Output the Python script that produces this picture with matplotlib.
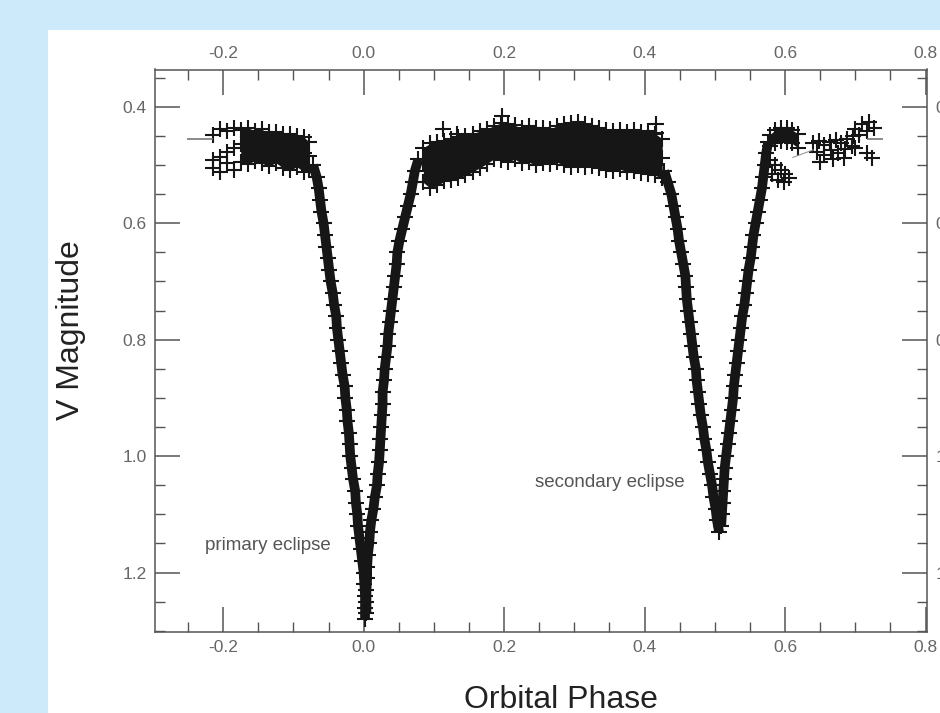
import matplotlib.pyplot as plt
from matplotlib.patches import Rectangle
from matplotlib.ticker import MultipleLocator, FormatStrFormatter

plt.rcParams['font.family'] = ['Liberation Sans', 'DejaVu Sans']
plt.rcParams['axes.unicode_minus'] = False

# out of eclipse before the primary minimum (upper / middle / lower part of the band)
lead_phase = [-0.215, -0.205, -0.195, -0.185, -0.175, -0.165, -0.155, -0.145, -0.135, -0.125,
              -0.115, -0.105, -0.095, -0.085, -0.078]
lead_top = [0.448, 0.438, 0.442, 0.437, 0.440, 0.436, 0.441, 0.439, 0.444, 0.443,
            0.447, 0.446, 0.450, 0.452, 0.460]
lead_mid = [0.492, 0.486, 0.478, 0.470, 0.464, 0.462, 0.466, 0.468, 0.470, 0.468,
            0.473, 0.475, 0.478, 0.480, 0.484]
lead_bot = [0.506, 0.512, 0.497, 0.508, 0.494, 0.498, 0.493, 0.497, 0.502, 0.496,
            0.505, 0.509, 0.503, 0.512, 0.508]

# primary eclipse, ingress and egress
pri_in_phase = [-0.072, -0.067, -0.064, -0.062, -0.060, -0.057, -0.055, -0.053, -0.051, -0.049,
                -0.047, -0.044, -0.042, -0.039, -0.038, -0.036, -0.034, -0.032, -0.030, -0.027,
                -0.026, -0.024, -0.023, -0.021, -0.020, -0.019, -0.017, -0.015, -0.012, -0.011,
                -0.009, -0.008, -0.006, -0.004, -0.002, 0.000, 0.001, 0.002, 0.002, 0.002]
pri_in_mag = [0.50, 0.52, 0.54, 0.56, 0.58, 0.60, 0.62, 0.64, 0.66, 0.68,
              0.70, 0.72, 0.74, 0.76, 0.78, 0.80, 0.82, 0.84, 0.86, 0.88,
              0.90, 0.92, 0.94, 0.96, 0.98, 1.00, 1.02, 1.04, 1.06, 1.08,
              1.10, 1.12, 1.14, 1.16, 1.18, 1.20, 1.22, 1.24, 1.26, 1.28]
pri_eg_phase = [0.004, 0.004, 0.004, 0.005, 0.005, 0.006, 0.008, 0.009, 0.011, 0.014,
                0.016, 0.019, 0.020, 0.022, 0.023, 0.024, 0.025, 0.026, 0.027, 0.027,
                0.029, 0.030, 0.032, 0.034, 0.035, 0.037, 0.039, 0.041, 0.043, 0.045,
                0.047, 0.048, 0.051, 0.055, 0.059, 0.063, 0.067, 0.070, 0.073, 0.078]
pri_eg_mag = [1.27, 1.25, 1.23, 1.21, 1.19, 1.17, 1.15, 1.13, 1.11, 1.09,
              1.07, 1.05, 1.03, 1.01, 0.99, 0.97, 0.95, 0.93, 0.91, 0.89,
              0.87, 0.85, 0.83, 0.81, 0.79, 0.77, 0.75, 0.73, 0.71, 0.69,
              0.67, 0.65, 0.63, 0.61, 0.59, 0.57, 0.55, 0.53, 0.51, 0.49]

# maximum between the eclipses
mid_phase = [0.085, 0.095, 0.105, 0.115, 0.125, 0.135, 0.145, 0.155, 0.165, 0.175,
             0.185, 0.195, 0.205, 0.215, 0.225, 0.235, 0.245, 0.255, 0.265, 0.275,
             0.285, 0.295, 0.305, 0.315, 0.325, 0.335, 0.345, 0.355, 0.365, 0.375,
             0.385, 0.395, 0.405, 0.415, 0.425]
mid_top = [0.470, 0.463, 0.460, 0.458, 0.455, 0.452, 0.450, 0.446, 0.442, 0.438,
           0.433, 0.428, 0.430, 0.432, 0.436, 0.433, 0.437, 0.436, 0.438, 0.433,
           0.430, 0.428, 0.426, 0.430, 0.433, 0.437, 0.440, 0.442, 0.440, 0.444,
           0.440, 0.443, 0.441, 0.446, 0.455]
mid_mid = [0.498, 0.500, 0.497, 0.492, 0.490, 0.487, 0.484, 0.479, 0.473, 0.468,
           0.461, 0.460, 0.462, 0.461, 0.466, 0.464, 0.468, 0.466, 0.468, 0.464,
           0.465, 0.466, 0.463, 0.467, 0.468, 0.471, 0.474, 0.476, 0.474, 0.478,
           0.475, 0.478, 0.478, 0.482, 0.488]
mid_bot = [0.530, 0.540, 0.535, 0.528, 0.525, 0.522, 0.518, 0.512, 0.505, 0.498,
           0.490, 0.492, 0.495, 0.490, 0.497, 0.495, 0.500, 0.497, 0.498, 0.495,
           0.500, 0.503, 0.500, 0.504, 0.502, 0.506, 0.508, 0.510, 0.507, 0.512,
           0.510, 0.514, 0.515, 0.518, 0.522]

# secondary eclipse, ingress and egress
sec_in_phase = [0.428, 0.433, 0.438, 0.441, 0.444, 0.447, 0.449, 0.452, 0.455, 0.458,
                0.459, 0.460, 0.462, 0.464, 0.466, 0.468, 0.470, 0.473, 0.474, 0.476,
                0.478, 0.480, 0.483, 0.485, 0.488, 0.490, 0.493, 0.496, 0.498, 0.501,
                0.503, 0.506]
sec_in_mag = [0.51, 0.53, 0.55, 0.57, 0.59, 0.61, 0.63, 0.65, 0.67, 0.69,
              0.71, 0.73, 0.75, 0.77, 0.79, 0.81, 0.83, 0.85, 0.87, 0.89,
              0.91, 0.93, 0.95, 0.97, 0.99, 1.01, 1.03, 1.05, 1.07, 1.09,
              1.11, 1.13]
sec_eg_phase = [0.509, 0.510, 0.511, 0.512, 0.513, 0.514, 0.516, 0.518, 0.520, 0.522,
                0.524, 0.526, 0.527, 0.529, 0.531, 0.533, 0.535, 0.537, 0.539, 0.542,
                0.544, 0.546, 0.548, 0.551, 0.553, 0.555, 0.558, 0.561, 0.564, 0.567,
                0.569, 0.571, 0.573, 0.576]
sec_eg_mag = [1.12, 1.10, 1.08, 1.06, 1.04, 1.02, 1.00, 0.98, 0.96, 0.94,
              0.92, 0.90, 0.88, 0.86, 0.84, 0.82, 0.80, 0.78, 0.76, 0.74,
              0.72, 0.70, 0.68, 0.66, 0.64, 0.62, 0.60, 0.58, 0.56, 0.54,
              0.52, 0.50, 0.48, 0.46]

# after the secondary eclipse
post_phase = [0.578, 0.586, 0.594, 0.602, 0.610, 0.618]
post_top = [0.448, 0.440, 0.436, 0.437, 0.440, 0.446]
post_bot = [0.468, 0.462, 0.458, 0.460, 0.463, 0.470]
trail_phase = [0.578, 0.586, 0.594, 0.600, 0.606, 0.590, 0.598, 0.582]
trail_mag = [0.492, 0.500, 0.508, 0.515, 0.522, 0.525, 0.530, 0.515]
tail_phase = [0.640, 0.648, 0.656, 0.664, 0.672, 0.680, 0.688, 0.696, 0.645, 0.655,
              0.665, 0.675, 0.685, 0.695, 0.650, 0.668, 0.684, 0.700]
tail_mag = [0.462, 0.458, 0.465, 0.460, 0.457, 0.462, 0.455, 0.450, 0.478, 0.482,
            0.475, 0.480, 0.472, 0.468, 0.495, 0.490, 0.488, 0.470]
up_phase = [0.700, 0.710, 0.720, 0.705, 0.716, 0.726, 0.716, 0.724]
up_mag = [0.438, 0.430, 0.426, 0.448, 0.442, 0.436, 0.480, 0.488]
stray_phase = [0.113, 0.133, 0.197, 0.416, 0.416]
stray_mag = [0.438, 0.446, 0.416, 0.430, 0.445]

# isolated points with horizontal bars
bar_phase = [-0.233, 0.728]
bar_mag = [0.455, 0.455]
bar_half = [0.019, 0.012]
link_phase = [0.611, 0.640]
link_mag = [0.487, 0.474]

ink = '#161616'

fig = plt.figure(figsize=(9.4, 7.13), dpi=100)
fig.patch.set_facecolor('#cdeafb')
fig.add_artist(Rectangle((48 / 940, 0), 1, 683 / 713, transform=fig.transFigure,
                         facecolor='white', edgecolor='none', zorder=0))
ax = fig.add_axes([155 / 940, 81 / 713, 772 / 940, 562.5 / 713])
ax.set_facecolor('white')

# dense parts of the light curve read as a solid band
ax.fill_between(lead_phase[4:], lead_top[4:], lead_bot[4:], color=ink, lw=0)
ax.fill_between(mid_phase, mid_top, mid_bot, color=ink, lw=0)
ax.fill_between(post_phase, post_top, post_bot, color=ink, lw=0)
for xs, ys in [(pri_in_phase, pri_in_mag), (pri_eg_phase, pri_eg_mag),
               (sec_in_phase, sec_in_mag), (sec_eg_phase, sec_eg_mag)]:
    ax.plot(xs, ys, color=ink, lw=7, solid_capstyle='butt')

style = dict(linestyle='none', marker='+', color=ink, ms=11, mew=1.5)
for xs, ys in [(lead_phase, lead_top), (lead_phase, lead_mid), (lead_phase, lead_bot),
               (pri_in_phase, pri_in_mag), (pri_eg_phase, pri_eg_mag),
               (mid_phase, mid_top), (mid_phase, mid_mid), (mid_phase, mid_bot),
               (sec_in_phase, sec_in_mag), (sec_eg_phase, sec_eg_mag),
               (post_phase, post_top), (post_phase, post_bot), (trail_phase, trail_mag),
               (tail_phase, tail_mag), (up_phase, up_mag), (stray_phase, stray_mag)]:
    ax.plot(xs, ys, **style)

ax.errorbar(bar_phase, bar_mag, xerr=bar_half, fmt='none', ecolor='#777777', elinewidth=1.2)
ax.plot(link_phase, link_mag, color='#999999', lw=0.8)

ax.set_xlim(-0.297, 0.802)
ax.set_ylim(1.302, 0.336)

ax.xaxis.set_major_locator(MultipleLocator(0.2))
ax.xaxis.set_minor_locator(MultipleLocator(0.05))
ax.yaxis.set_major_locator(MultipleLocator(0.2))
ax.yaxis.set_minor_locator(MultipleLocator(0.05))
ax.xaxis.set_major_formatter(FormatStrFormatter('%.1f'))
ax.yaxis.set_major_formatter(FormatStrFormatter('%.1f'))

ax.tick_params(which='both', direction='in', top=True, right=True,
               labeltop=True, labelright=True, color='#555555',
               labelcolor='#666666', labelsize=12.5, pad=6)
ax.tick_params(which='major', length=18, width=1.1)
ax.tick_params(which='minor', length=7, width=1.0)
for sp in ax.spines.values():
    sp.set_color('#555555')
    sp.set_linewidth(1.1)

ax.text(-0.2256, 1.154, 'primary eclipse', fontsize=13.5, color='#555555', va='center')
ax.text(0.244, 1.0455, 'secondary eclipse', fontsize=13.5, color='#555555', va='center')

fig.text(71 / 940, 383 / 713, 'V Magnitude', rotation=90, fontsize=23,
         color='#222222', ha='center', va='center')
fig.text(561 / 940, 5 / 713, 'Orbital Phase', fontsize=23,
         color='#222222', ha='center', va='baseline')

fig.savefig('out.png', dpi=100, facecolor=fig.get_facecolor())
